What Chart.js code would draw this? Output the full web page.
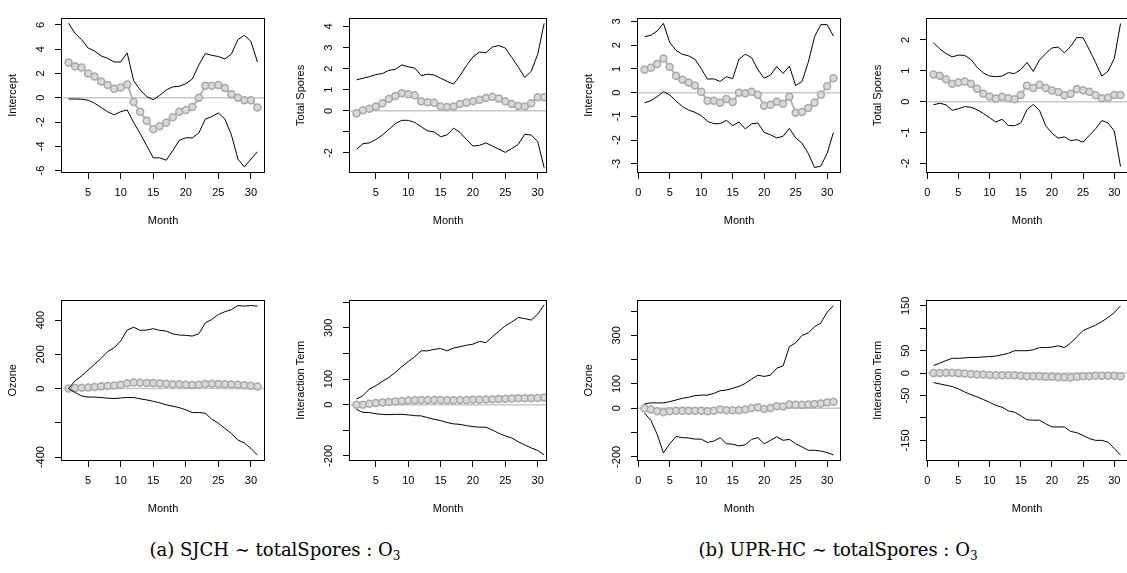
<!DOCTYPE html>
<html>
<head>
<meta charset="utf-8">
<script src="https://cdn.jsdelivr.net/npm/chart.js@4.4.1/dist/chart.umd.min.js"></script>
<style>
  html, body { margin: 0; padding: 0; background: #fff; overflow: hidden; }
  body { width: 1127px; height: 573px; position: relative; }
  .panel { position: absolute; }
  .caption {
    position: absolute; top: 539px; white-space: nowrap; color: #000;
    font-family: "DejaVu Serif", "Liberation Serif", serif; font-size: 18px; line-height: 22px;
    transform: translateX(-50%);
  }
  .caption sub { font-size: 12px; vertical-align: -4px; }
</style>
</head>
<body>
<div class="caption" style="left:275px">(a) SJCH ∼ totalSpores : O<sub>3</sub></div>
<div class="caption" style="left:838px">(b) UPR-HC ∼ totalSpores : O<sub>3</sub></div>
<script>
// months on the x axis (SJCH starts at month 2, UPR-HC at month 1)
const monthsA = [2,3,4,5,6,7,8,9,10,11,12,13,14,15,16,17,18,19,20,21,22,23,24,25,26,27,28,29,30,31];
const monthsB = [1,2,3,4,5,6,7,8,9,10,11,12,13,14,15,16,17,18,19,20,21,22,23,24,25,26,27,28,29,30,31];

// x tick marks
const xTicksA = [5,10,15,20,25,30];
const xTicksB = [0,5,10,15,20,25,30];

// (a) SJCH - Intercept
const sjchInterceptUpper = [6.15,5.3,4.8,4.1,3.85,3.45,3.25,2.95,2.95,3.7,1.4,0.65,0.1,-0.15,0.2,0.65,0.9,0.95,1.15,1.55,2.7,3.65,3.5,3.4,3.2,3.6,4.8,5.15,4.65,2.95];
const sjchInterceptEst   = [2.9,2.6,2.5,2.0,1.75,1.35,1.05,0.75,0.85,1.1,-0.35,-1.15,-1.9,-2.6,-2.35,-2.05,-1.6,-1.15,-1.0,-0.75,0,1.0,1.0,1.05,0.8,0.3,0,-0.2,-0.2,-0.8];
const sjchInterceptLower = [-0.1,-0.1,-0.12,-0.2,-0.45,-0.8,-1.15,-1.4,-1.15,-1.0,-2.05,-2.95,-3.95,-4.95,-4.95,-5.15,-4.35,-3.5,-3.3,-3.3,-2.9,-1.75,-1.55,-1.25,-1.75,-3.05,-5.05,-5.7,-5.05,-4.45];

// (a) SJCH - Total Spores
const sjchSporesUpper = [1.47,1.55,1.62,1.72,1.77,1.92,1.97,2.18,2.09,2.03,1.67,1.74,1.7,1.55,1.4,1.27,1.67,2.15,2.56,2.79,2.76,3.03,3.1,2.98,2.53,2.08,1.58,1.88,2.68,4.15];
const sjchSporesEst   = [-0.12,0.03,0.1,0.21,0.36,0.56,0.71,0.83,0.79,0.74,0.45,0.41,0.38,0.21,0.18,0.21,0.33,0.39,0.45,0.53,0.61,0.67,0.58,0.45,0.33,0.23,0.21,0.36,0.64,0.64];
const sjchSporesLower = [-1.82,-1.56,-1.52,-1.36,-1.15,-0.88,-0.61,-0.45,-0.45,-0.55,-0.76,-0.95,-1.0,-1.23,-1.14,-0.82,-1.03,-1.36,-1.67,-1.64,-1.52,-1.67,-1.82,-1.97,-1.79,-1.59,-1.11,-1.15,-1.45,-2.7];

// (b) UPR-HC - Intercept
const uprInterceptUpper = [2.36,2.42,2.6,2.92,2.11,1.78,1.62,1.55,1.41,1.01,0.57,0.58,0.47,0.67,0.59,1.41,1.62,1.48,0.97,0.61,0.74,1.1,0.81,1.12,0.3,0.47,1.28,2.36,2.87,2.87,2.38];
const uprInterceptEst   = [0.97,1.05,1.21,1.44,1.08,0.71,0.54,0.43,0.3,0.04,-0.34,-0.34,-0.43,-0.27,-0.4,0,-0.03,0.04,-0.09,-0.55,-0.51,-0.38,-0.47,-0.17,-0.85,-0.82,-0.65,-0.43,-0.09,0.27,0.61];
const uprInterceptLower = [-0.43,-0.34,-0.17,0.04,-0.09,-0.36,-0.58,-0.74,-0.83,-0.97,-1.21,-1.31,-1.31,-1.17,-1.39,-1.24,-1.53,-1.32,-1.28,-1.68,-1.78,-1.91,-1.84,-1.51,-1.91,-2.13,-2.56,-3.16,-3.1,-2.56,-1.68];

// (b) UPR-HC - Total Spores
const uprSporesUpper = [1.91,1.71,1.56,1.45,1.51,1.5,1.37,1.11,0.93,0.83,0.81,0.83,0.94,0.91,1.04,1.27,0.98,1.35,1.56,1.74,1.77,1.58,1.79,2.08,2.07,1.68,1.27,0.83,0.99,1.4,2.53];
const uprSporesEst   = [0.88,0.84,0.73,0.58,0.62,0.65,0.58,0.42,0.26,0.17,0.1,0.16,0.11,0.08,0.22,0.52,0.44,0.55,0.44,0.36,0.31,0.21,0.26,0.41,0.37,0.32,0.21,0.11,0.13,0.22,0.22];
const uprSporesLower = [-0.1,-0.05,-0.1,-0.28,-0.23,-0.16,-0.18,-0.26,-0.38,-0.52,-0.66,-0.57,-0.77,-0.78,-0.69,-0.26,-0.09,-0.28,-0.78,-1.02,-1.18,-1.14,-1.26,-1.23,-1.31,-1.09,-0.88,-0.61,-0.69,-0.95,-2.1];

// (a) SJCH - Ozone
const sjchOzoneUpper = [0,45,74,109,142,177,216,239,278,342,359,340,342,350,340,336,320,313,311,307,320,384,404,433,449,462,485,482,485,482];
const sjchOzoneEst   = [0,3,5,7,10,13,15,18,22,31,35,34,33,32,30,28,26,25,23,21,22,27,28,27,26,24,22,20,17,12];
const sjchOzoneLower = [0,-23,-43,-49,-50,-52,-56,-58,-55,-52,-52,-60,-66,-74,-83,-95,-103,-111,-124,-140,-140,-144,-179,-202,-233,-262,-301,-318,-350,-388];

// (a) SJCH - Interaction Term
const sjchInterUpper = [22,35,61,74,91,106,126,148,168,187,210,210,216,219,210,221,226,232,236,247,242,265,286,308,323,340,336,330,353,390];
const sjchInterEst   = [0,0,3,6,8,10,12,14,16,17,18,18,18,18,17,17,18,18,19,19,20,21,22,23,24,25,25,25,26,28];
const sjchInterLower = [-19,-30,-31,-36,-38,-39,-38,-38,-40,-43,-44,-51,-57,-62,-70,-75,-77,-82,-86,-88,-88,-99,-112,-122,-130,-145,-157,-169,-179,-196];

// (b) UPR-HC - Ozone
const uprOzoneUpper = [18,22,22,22,27,34,41,45,52,54,54,61,72,75,82,90,102,120,136,131,136,165,174,253,269,299,310,335,351,395,422];
const uprOzoneEst   = [0,-5,-12,-16,-12,-10,-10,-10,-10,-10,-12,-10,-5,-8,-8,-8,-5,1,4,-3,1,8,7,15,14,14,15,18,20,24,27];
const uprOzoneLower = [-20,-50,-107,-184,-146,-116,-121,-122,-127,-127,-141,-135,-121,-146,-148,-155,-150,-128,-121,-146,-132,-117,-132,-128,-146,-159,-173,-173,-176,-182,-192];

// (b) UPR-HC - Interaction Term
const uprInterUpper = [17,22,28,33,33,34,35,35,36,37,38,41,44,50,50,50,52,57,57,58,61,57,67,81,95,101,107,115,124,135,150];
const uprInterEst   = [0,0,1,1,0,-1,-2,-3,-3,-4,-5,-5,-5,-5,-6,-7,-7,-7,-8,-8,-9,-9,-10,-8,-7,-7,-6,-6,-6,-6,-7];
const uprInterLower = [-21,-24,-27,-30,-35,-42,-48,-53,-59,-65,-72,-76,-84,-87,-95,-104,-105,-105,-113,-120,-120,-120,-130,-133,-139,-146,-150,-150,-154,-168,-183];

// y ticks and their labels ('' = tick without label, as R dropped it)
const yTicksInterceptA = [-6,-4,-2,0,2,4,6];
const yLabelsInterceptA = ['-6','-4','-2','0','2','4','6'];
const yTicksSporesA = [-2,-1,0,1,2,3,4];
const yLabelsSporesA = ['-2','','0','1','2','3','4'];
const yTicksInterceptB = [-3,-2,-1,0,1,2,3];
const yLabelsInterceptB = ['-3','-2','-1','0','1','2','3'];
const yTicksSporesB = [-2,-1,0,1,2];
const yLabelsSporesB = ['-2','-1','0','1','2'];
const yTicksOzoneA = [-400,-200,0,200,400];
const yLabelsOzoneA = ['-400','','0','200','400'];
const yTicksHundreds = [-200,-100,0,100,200,300,400];
const yLabelsHundreds = ['-200','','0','100','','300',''];
const yTicksInterB = [-150,-100,-50,0,50,100,150];
const yLabelsInterB = ['-150','','-50','0','50','','150'];

const FONT = '"Liberation Sans", Arial, Helvetica, sans-serif';
const AXIS_W = 55;   // room left of the box for tick labels + title
const AXIS_H = 55;   // room below the box
const PAD = 8;

Chart.defaults.font.family = FONT;
Chart.defaults.font.size = 11;
Chart.defaults.color = '#000';

// box = [left, top, right, bottom] of the plot region in page pixels
const panels = [
  { box: [61, 10, 265, 173],  xMin: 0.84, xMax: 32.16, yMin: -6.2, yMax: 6.6, months: monthsA, xTicks: xTicksA,
    upper: sjchInterceptUpper, est: sjchInterceptEst, lower: sjchInterceptLower,
    yTicks: yTicksInterceptA, yLabels: yLabelsInterceptA, yTitle: 'Intercept' },
  { box: [349, 10, 547, 173], xMin: 0.84, xMax: 31.44, yMin: -2.95, yMax: 4.42, months: monthsA, xTicks: xTicksA,
    upper: sjchSporesUpper, est: sjchSporesEst, lower: sjchSporesLower,
    yTicks: yTicksSporesA, yLabels: yLabelsSporesA, yTitle: 'Total Spores' },
  { box: [637, 10, 841, 173], xMin: -0.2, xMax: 32.2, yMin: -3.39, yMax: 3.16, months: monthsB, xTicks: xTicksB,
    upper: uprInterceptUpper, est: uprInterceptEst, lower: uprInterceptLower,
    yTicks: yTicksInterceptB, yLabels: yLabelsInterceptB, yTitle: 'Intercept' },
  { box: [926, 10, 1128, 173], xMin: -0.2, xMax: 32.2, yMin: -2.31, yMax: 2.72, months: monthsB, xTicks: xTicksB,
    upper: uprSporesUpper, est: uprSporesEst, lower: uprSporesLower,
    yTicks: yTicksSporesB, yLabels: yLabelsSporesB, yTitle: 'Total Spores' },
  { box: [61, 298, 265, 461], xMin: 0.84, xMax: 32.16, yMin: -423, yMax: 520, months: monthsA, xTicks: xTicksA,
    upper: sjchOzoneUpper, est: sjchOzoneEst, lower: sjchOzoneLower,
    yTicks: yTicksOzoneA, yLabels: yLabelsOzoneA, yTitle: 'Ozone' },
  { box: [349, 298, 547, 461], xMin: 0.84, xMax: 31.44, yMin: -220, yMax: 410, months: monthsA, xTicks: xTicksA,
    upper: sjchInterUpper, est: sjchInterEst, lower: sjchInterLower,
    yTicks: yTicksHundreds, yLabels: yLabelsHundreds, yTitle: 'Interaction Term' },
  { box: [637, 298, 841, 461], xMin: -0.2, xMax: 32.2, yMin: -217, yMax: 447, months: monthsB, xTicks: xTicksB,
    upper: uprOzoneUpper, est: uprOzoneEst, lower: uprOzoneLower,
    yTicks: yTicksHundreds, yLabels: yLabelsHundreds, yTitle: 'Ozone' },
  { box: [926, 298, 1128, 461], xMin: -0.2, xMax: 32.2, yMin: -196, yMax: 164, months: monthsB, xTicks: xTicksB,
    upper: uprInterUpper, est: uprInterEst, lower: uprInterLower,
    yTicks: yTicksInterB, yLabels: yLabelsInterB, yTitle: 'Interaction Term' }
];

// measure widest tick label so rotated labels sit at a fixed distance from the box
const measureCtx = document.createElement('canvas').getContext('2d');
function widest(labels) {
  measureCtx.font = '11px ' + FONT;
  return Math.max(0, ...labels.map(l => measureCtx.measureText(l).width));
}

function zip(xs, ys) {
  return xs.map((x, i) => ({ x: x, y: ys[i] }));
}

// full frame around the plot region, like R's box()
const boxPlugin = {
  id: 'rbox',
  afterDatasetsDraw(chart) {
    const { ctx, chartArea: a } = chart;
    ctx.save();
    ctx.strokeStyle = '#000';
    ctx.lineWidth = 1;
    ctx.strokeRect(Math.round(a.left) + 0.5, Math.round(a.top) + 0.5,
                   Math.round(a.width) - 1, Math.round(a.height) - 1);
    ctx.restore();
  }
};

function makePanel(p) {
  const left = p.box[0] - AXIS_W;
  const top = p.box[1] - PAD;
  const w = p.box[2] + PAD - left;
  const h = p.box[3] + AXIS_H - top;

  const wrap = document.createElement('div');
  wrap.className = 'panel';
  wrap.style.left = left + 'px';
  wrap.style.top = top + 'px';
  const canvas = document.createElement('canvas');
  canvas.width = w;
  canvas.height = h;
  wrap.appendChild(canvas);
  document.body.appendChild(wrap);

  const labelFor = new Map(p.yTicks.map((v, i) => [v, p.yLabels[i]]));
  const yPad = 14 - widest(p.yLabels) / 2;
  const tickGrid = { display: true, drawOnChartArea: false, drawTicks: true, tickLength: 6, color: '#000', lineWidth: 1 };

  new Chart(canvas, {
    type: 'line',
    data: {
      datasets: [
        { // reference line at zero
          data: [{ x: p.xMin, y: 0 }, { x: p.xMax, y: 0 }],
          borderColor: '#c8c8c8', borderWidth: 1.5, pointRadius: 0, order: 4
        },
        { data: zip(p.months, p.upper), borderColor: '#000', borderWidth: 1, pointRadius: 0, order: 2 },
        { data: zip(p.months, p.lower), borderColor: '#000', borderWidth: 1, pointRadius: 0, order: 2 },
        {
          data: zip(p.months, p.est), borderColor: '#b4b4b4', borderWidth: 2,
          pointRadius: 3.5, pointBackgroundColor: '#d9d9d9', pointBorderColor: '#a8a8a8', pointBorderWidth: 1.5,
          order: 3
        }
      ]
    },
    options: {
      responsive: false,
      animation: false,
      events: [],
      layout: { padding: { top: PAD, right: PAD, left: 0, bottom: 0 } },
      plugins: { legend: { display: false }, tooltip: { enabled: false } },
      elements: { line: { tension: 0 } },
      scales: {
        x: {
          type: 'linear', min: p.xMin, max: p.xMax,
          afterBuildTicks: s => { s.ticks = p.xTicks.map(v => ({ value: v })); },
          afterFit: s => { s.height = AXIS_H; },
          grid: tickGrid,
          border: { display: false },
          ticks: { autoSkip: false, maxRotation: 0, padding: 7, color: '#000', callback: v => String(v) },
          title: { display: true, text: 'Month', color: '#000', padding: 0, font: { size: 11 } }
        },
        y: {
          type: 'linear', min: p.yMin, max: p.yMax,
          afterBuildTicks: s => { s.ticks = p.yTicks.map(v => ({ value: v })); },
          afterFit: s => { s.width = AXIS_W; },
          grid: tickGrid,
          border: { display: false },
          ticks: {
            autoSkip: false, minRotation: 90, maxRotation: 90, crossAlign: 'center',
            padding: yPad, color: '#000',
            callback: v => labelFor.has(v) ? labelFor.get(v) : ''
          },
          title: { display: true, text: p.yTitle, color: '#000', padding: 0, font: { size: 11 } }
        }
      }
    },
    plugins: [boxPlugin]
  });
}

panels.forEach(makePanel);
</script>
</body>
</html>
